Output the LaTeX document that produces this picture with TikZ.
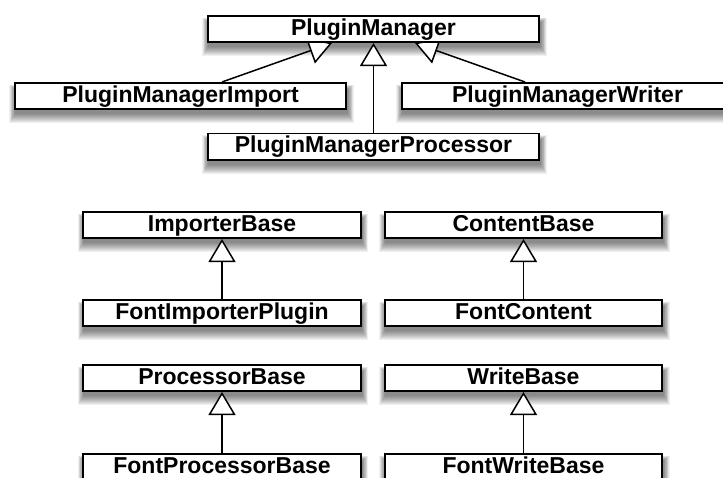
\documentclass[tikz,border=0pt]{standalone}
\usepackage{fontspec}
\setmainfont{Liberation Sans}
\usetikzlibrary{arrows.meta}
\pgfdeclarelayer{shadowlayer}
\pgfdeclarelayer{linelayer}
\pgfsetlayers{shadowlayer,linelayer,main}

\tikzset{
  classbox/.style={draw=black, line width=1.8pt, fill=white, inner sep=0pt,
    text height=17pt, text depth=4.8pt, minimum height=26.2pt,
    font=\fontsize{23}{25}\bfseries\selectfont},
  widebox/.style={classbox, minimum width=331.5pt},
  narrowbox/.style={classbox, minimum width=277.5pt},
  inherit/.style={line width=1.5pt, -{Triangle[length=23pt,width=27pt,fill=white]}},
}

% soft drop shadow under a named box
\newcommand\softshadow[1]{%
  \foreach \r in {0,...,9}{%
    \fill[black, opacity=0.06]
      ([shift={(1-0.6*\r,7-0.5*\r)}]#1.north west) rectangle ([shift={(1+0.6*\r,4+\r)}]#1.south east);
  }}

\begin{document}
\begin{tikzpicture}[x=1pt,y=-1pt]
  \useasboundingbox (0,0) rectangle (723,477);

  % plugin managers
  \node[widebox] (pm)  at (373.5,29)  {PluginManager};
  \node[widebox] (pmi) at (180.5,96)  {PluginManagerImport};
  \node[widebox] (pmw) at (567.5,96)  {PluginManagerWriter};
  \node[widebox] (pmp) at (373.5,146.5) {PluginManagerProcessor};

  % base classes and font implementations
  \node[narrowbox] (ib)  at (222,225)   {ImporterBase};
  \node[narrowbox] (cb)  at (523.5,225) {ContentBase};
  \node[narrowbox] (fip) at (222,313)   {FontImporterPlugin};
  \node[narrowbox] (fc)  at (523.5,313) {FontContent};
  \node[narrowbox] (pb)  at (222,378)   {ProcessorBase};
  \node[narrowbox] (wb)  at (523.5,378) {WriteBase};
  \node[narrowbox] (fpb) at (222,467)   {FontProcessorBase};
  \node[narrowbox] (fwb) at (523.5,467) {FontWriteBase};

  \begin{pgfonlayer}{shadowlayer}
    \foreach \n in {pm,pmi,pmw,pmp,ib,cb,fip,fc,pb,wb,fpb,fwb}{\softshadow{\n}}
  \end{pgfonlayer}

  \begin{pgfonlayer}{linelayer}
    \draw[inherit] ([xshift=41.5pt]pmi.north) -- ([xshift=-41.5pt]pm.south);
    \draw[inherit] ([xshift=-42.5pt]pmw.north) -- ([xshift=41.5pt]pm.south);
    \draw[inherit] (pmp.north) -- (pm.south);
    \draw[inherit] (fip.north) -- (ib.south);
    \draw[inherit] (fc.north) -- (cb.south);
    \draw[inherit] (fpb.north) -- (pb.south);
    \draw[inherit] (fwb.north) -- (wb.south);
  \end{pgfonlayer}
\end{tikzpicture}
\end{document}
